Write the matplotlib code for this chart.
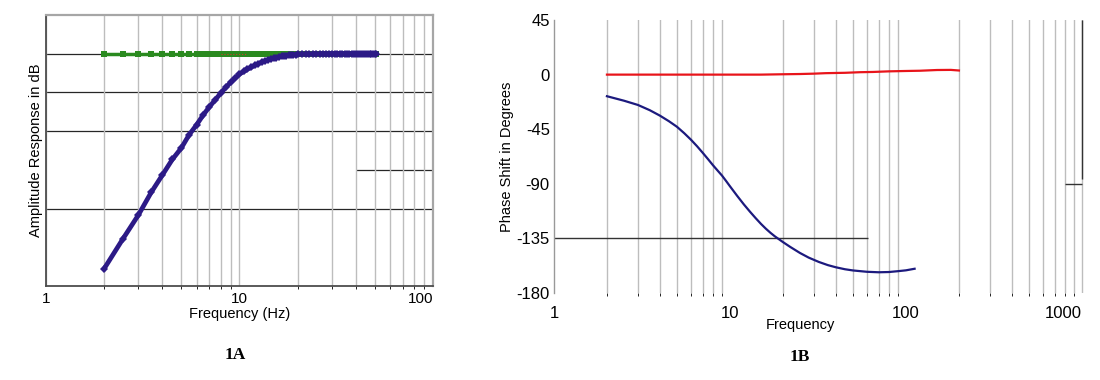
import matplotlib
matplotlib.use("Agg")
import matplotlib.pyplot as plt
from matplotlib.ticker import LogLocator, NullFormatter, FixedLocator, FixedFormatter
import numpy as np

plt.rcParams['font.family'] = ['Liberation Sans', 'DejaVu Sans']

# ---- 1A : amplitude response ----
amp_f = [2.0, 2.5, 3.0, 3.5, 4.0, 4.5, 5.0, 5.5, 6.0, 6.5, 7.0, 7.5, 8.0, 8.5,
         9.0, 9.5, 10.0, 10.5, 11.0, 11.5, 12.0, 12.5, 13.0, 13.5, 14.0, 14.5,
         15.0, 15.5, 16.0, 16.5, 17.0, 17.5, 18.0, 18.5, 19.0, 19.5, 20.0,
         21, 22, 23, 24, 25, 26, 27, 28, 29, 30, 31, 32, 33, 34, 35, 36, 37,
         38, 39, 40, 41, 42, 43, 44, 45, 46, 47, 48, 49, 50, 51]
amp_blue = [-55.5, -47.8, -41.7, -35.8, -31.3, -27.3, -24.4, -20.9, -18.4, -15.8,
            -13.7, -11.9, -10.2, -8.7, -7.4, -6.3, -5.3, -4.6, -4.0, -3.5, -3.0,
            -2.6, -2.2, -1.9, -1.6, -1.4, -1.2, -1.0, -0.85, -0.7, -0.6, -0.5,
            -0.4, -0.35, -0.3, -0.25, -0.2,
            -0.15, -0.12, -0.1, -0.08, -0.06, -0.05, -0.04, -0.03, -0.02, -0.02,
            -0.01, 0.0, 0.0, 0.0, 0.0, 0.0, 0.0, 0.0, 0.0, 0.0, 0.0, 0.0, 0.0,
            0.0, 0.0, 0.0, 0.0, 0.0, 0.0, 0.0, 0.0]
amp_green = [0.0, 0.0, 0.0, 0.0, 0.0, 0.0, 0.0, 0.0, 0.0, 0.0, 0.0, 0.0, 0.0, 0.0,
             0.0, 0.0, 0.0, 0.0, 0.0, 0.0, 0.0, 0.0, 0.0, 0.0, 0.0, 0.0, 0.0, 0.0,
             0.0, 0.0, 0.0, 0.0, 0.0, 0.0, 0.0, 0.0, 0.0, 0.0, 0.0, 0.0, 0.0, 0.0,
             0.0, 0.0, 0.0, 0.0, 0.0, 0.0, 0.0, 0.0, 0.0, 0.0, 0.0, 0.0, 0.0, 0.0,
             0.0, 0.0, 0.0, 0.0, 0.0, 0.0, 0.0, 0.0, 0.0, 0.0, 0.0, 0.0]
red_dot_f = [8.0, 8.5, 9.0, 9.5, 10.0, 10.5, 11.0]
red_dot_db = [0.0, 0.0, 0.0, 0.0, 0.0, 0.0, 0.0]
amp_hgrid = [0, -10, -20, -40]
amp_xticks = [1, 10, 100]

# ---- 1B : phase response ----
ph_f = [2.0, 2.5, 3.0, 3.5, 4.0, 4.5, 5.0, 5.5, 6.0, 6.5, 7.0, 7.5, 8.0, 8.5,
        9.0, 9.5, 10.0, 11.0, 12.0, 13.0, 14.0, 15.0, 16.0, 17.0, 18.0, 20.0,
        22.0, 25.0, 28.0, 32.0, 36.0, 40.0, 45.0, 50.0, 60.0, 70.0, 80.0, 90.0,
        100.0, 112.0]
ph_blue = [-17.8, -21.5, -25.0, -29.3, -33.8, -38.4, -43.0, -48.3, -53.6, -59.0,
           -64.4, -69.6, -74.6, -79.0, -83.1, -87.6, -92.0, -100.0, -107.0,
           -113.0, -118.3, -123.0, -127.0, -130.4, -133.3, -138.0, -142.0,
           -147.0, -150.8, -154.4, -157.0, -158.8, -160.4, -161.4, -162.5,
           -162.9, -162.7, -162.0, -161.3, -160.0]
red_f = [2, 5, 10, 15, 20, 25, 30, 35, 45, 55, 65, 80, 100, 120, 150, 180, 200]
red_deg = [0.0, 0.0, 0.0, 0.0, 0.3, 0.5, 0.8, 1.2, 1.5, 2.0, 2.2, 2.7, 3.0, 3.2,
           3.8, 3.9, 3.4]
ph_yticks = [45, 0, -45, -90, -135, -180]
ph_xticks = [1, 10, 100, 1000]

grid_col = '#bdbdbd'

fig = plt.figure(figsize=(11, 3.8), dpi=100)

# left panel
ax1 = fig.add_axes([0.0418, 0.2474, 0.3518, 0.7132])
ax1.set_xscale('log')
ax1.set_xlim(1, 100)
ax1.set_ylim(-60, 10)
ax1.xaxis.set_minor_locator(LogLocator(base=10, subs=np.arange(2, 10)))
ax1.xaxis.set_minor_formatter(NullFormatter())
ax1.xaxis.set_major_locator(FixedLocator(amp_xticks))
ax1.xaxis.set_major_formatter(FixedFormatter([str(t) for t in amp_xticks]))
ax1.grid(True, which='both', axis='x', color=grid_col, lw=1.0)
for yv in amp_hgrid:
    ax1.axhline(yv, color='#262626', lw=0.9, zorder=1)
ax1.hlines(-30, 40, 100, color='#262626', lw=0.9, zorder=1)
ax1.plot(amp_f, amp_green, color='#2a8a1f', lw=2.5, marker='s', ms=4.5,
         markeredgewidth=0, zorder=3)
ax1.plot(red_dot_f, red_dot_db, color='#d23a2a', lw=0.8, ls=':', zorder=3.5)
ax1.plot(amp_f, amp_blue, color='#2c1a86', lw=3.4, marker='D', ms=4.2,
         markeredgewidth=0, zorder=4)
ax1.set_yticks([])
ax1.tick_params(axis='x', length=0, pad=4, labelsize=11)
ax1.get_xticklabels()[-1].set_horizontalalignment('right')
for s in ['top', 'right']:
    ax1.spines[s].set_color('#a6a6a6')
    ax1.spines[s].set_linewidth(1.6)
for s in ['left', 'bottom']:
    ax1.spines[s].set_color('#4d4d4d')
    ax1.spines[s].set_linewidth(1.3)
ax1.set_xlabel('Frequency (Hz)', fontsize=10.5, labelpad=1)
ax1.set_ylabel('Amplitude Response in dB', fontsize=10.5, labelpad=2)

# right panel
ax2 = fig.add_axes([0.5036, 0.2289, 0.4827, 0.7184])
ax2.set_xscale('log')
ax2.set_xlim(1, 1040)
ax2.set_ylim(-180, 45)
ax2.xaxis.set_minor_locator(LogLocator(base=10, subs=np.arange(2, 10)))
ax2.xaxis.set_minor_formatter(NullFormatter())
ax2.xaxis.set_major_locator(FixedLocator(ph_xticks))
ax2.xaxis.set_major_formatter(FixedFormatter([str(t) for t in ph_xticks]))
ax2.yaxis.set_major_locator(FixedLocator(ph_yticks))
ax2.yaxis.set_major_formatter(FixedFormatter([str(t) for t in ph_yticks]))
ax2.grid(True, which='minor', axis='x', color=grid_col, lw=1.0)
ax2.axvline(1000, color=grid_col, lw=1.0)
ax2.vlines(1000, -86, 45, color='#333333', lw=1.0)
ax2.hlines(-90, 800, 1000, color='#333333', lw=1.0)
ax2.hlines(-135, 1, 61, color='#333333', lw=1.0)
ax2.plot(red_f, red_deg, color='#e8141a', lw=1.6, zorder=3)
ax2.plot(ph_f, ph_blue, color='#1c1a7e', lw=1.6, zorder=3)
for s in ['top', 'right', 'bottom']:
    ax2.spines[s].set_visible(False)
ax2.spines['left'].set_color('#999999')
ax2.spines['left'].set_linewidth(1.0)
ax2.tick_params(axis='both', length=0, labelsize=12)
ax2.tick_params(axis='x', pad=9)
ax2.tick_params(axis='y', pad=3)
ax2.get_xticklabels()[-1].set_horizontalalignment('right')
ax2.set_xlabel('Frequency', fontsize=10.5)
ax2.xaxis.set_label_coords(0.465, -0.09)
ax2.set_ylabel('Phase Shift in Degrees', fontsize=10.5, labelpad=2)

fig.text(0.214, 0.065, '1A', family=['Liberation Serif', 'DejaVu Serif'],
         fontweight='bold', fontsize=12.5, ha='center', va='center')
fig.text(0.727, 0.06, '1B', family=['Liberation Serif', 'DejaVu Serif'],
         fontweight='bold', fontsize=12.5, ha='center', va='center')

fig.savefig('out.png', dpi=100)
